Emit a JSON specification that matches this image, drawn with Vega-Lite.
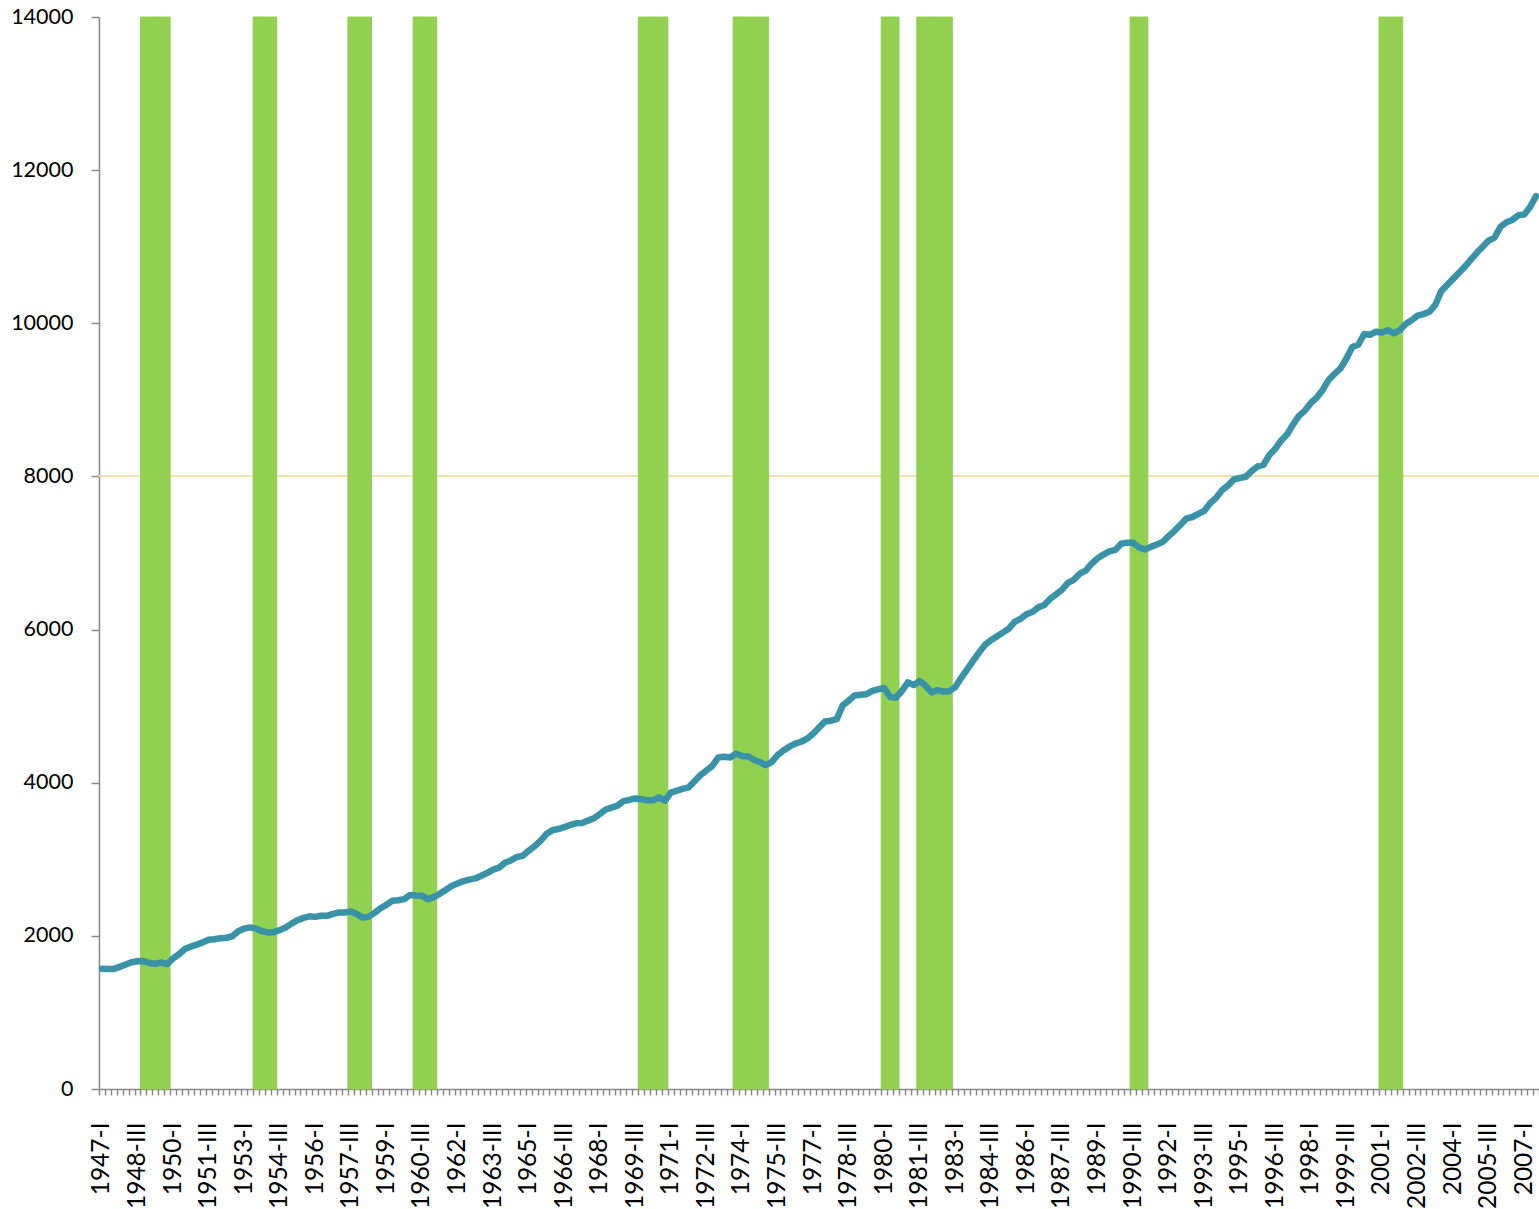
{
"$schema": "https://vega.github.io/schema/vega-lite/v6.json",
"width": 1440, "height": 1072,
"autosize": {"type": "none"},
"padding": {"left": 99, "top": 17, "right": 0, "bottom": 120},
"background": "white",
"config": {"view": {"stroke": null}, "font": "Lato"},
"data": {"values": [
{"q":"1947-I","gdp":1570,"rec":null},{"q":"1947-II","gdp":1568,"rec":null},{"q":"1947-III","gdp":1568,"rec":null},{"q":"1947-IV","gdp":1595,"rec":null},
{"q":"1948-I","gdp":1625,"rec":null},{"q":"1948-II","gdp":1655,"rec":null},{"q":"1948-III","gdp":1668,"rec":null},{"q":"1948-IV","gdp":1672,"rec":14000},
{"q":"1949-I","gdp":1645,"rec":14000},{"q":"1949-II","gdp":1635,"rec":14000},{"q":"1949-III","gdp":1652,"rec":14000},{"q":"1949-IV","gdp":1632,"rec":14000},
{"q":"1950-I","gdp":1705,"rec":null},{"q":"1950-II","gdp":1760,"rec":null},{"q":"1950-III","gdp":1828,"rec":null},{"q":"1950-IV","gdp":1860,"rec":null},
{"q":"1951-I","gdp":1885,"rec":null},{"q":"1951-II","gdp":1915,"rec":null},{"q":"1951-III","gdp":1950,"rec":null},{"q":"1951-IV","gdp":1955,"rec":null},
{"q":"1952-I","gdp":1970,"rec":null},{"q":"1952-II","gdp":1975,"rec":null},{"q":"1952-III","gdp":1995,"rec":null},{"q":"1952-IV","gdp":2060,"rec":null},
{"q":"1953-I","gdp":2095,"rec":null},{"q":"1953-II","gdp":2110,"rec":null},{"q":"1953-III","gdp":2095,"rec":14000},{"q":"1953-IV","gdp":2060,"rec":14000},
{"q":"1954-I","gdp":2045,"rec":14000},{"q":"1954-II","gdp":2048,"rec":14000},{"q":"1954-III","gdp":2075,"rec":null},{"q":"1954-IV","gdp":2110,"rec":null},
{"q":"1955-I","gdp":2160,"rec":null},{"q":"1955-II","gdp":2205,"rec":null},{"q":"1955-III","gdp":2235,"rec":null},{"q":"1955-IV","gdp":2255,"rec":null},
{"q":"1956-I","gdp":2248,"rec":null},{"q":"1956-II","gdp":2262,"rec":null},{"q":"1956-III","gdp":2262,"rec":null},{"q":"1956-IV","gdp":2288,"rec":null},
{"q":"1957-I","gdp":2305,"rec":null},{"q":"1957-II","gdp":2305,"rec":null},{"q":"1957-III","gdp":2318,"rec":14000},{"q":"1957-IV","gdp":2285,"rec":14000},
{"q":"1958-I","gdp":2238,"rec":14000},{"q":"1958-II","gdp":2248,"rec":14000},{"q":"1958-III","gdp":2300,"rec":null},{"q":"1958-IV","gdp":2360,"rec":null},
{"q":"1959-I","gdp":2405,"rec":null},{"q":"1959-II","gdp":2460,"rec":null},{"q":"1959-III","gdp":2465,"rec":null},{"q":"1959-IV","gdp":2480,"rec":null},
{"q":"1960-I","gdp":2535,"rec":null},{"q":"1960-II","gdp":2528,"rec":14000},{"q":"1960-III","gdp":2525,"rec":14000},{"q":"1960-IV","gdp":2480,"rec":14000},
{"q":"1961-I","gdp":2505,"rec":14000},{"q":"1961-II","gdp":2550,"rec":null},{"q":"1961-III","gdp":2600,"rec":null},{"q":"1961-IV","gdp":2650,"rec":null},
{"q":"1962-I","gdp":2685,"rec":null},{"q":"1962-II","gdp":2715,"rec":null},{"q":"1962-III","gdp":2735,"rec":null},{"q":"1962-IV","gdp":2750,"rec":null},
{"q":"1963-I","gdp":2785,"rec":null},{"q":"1963-II","gdp":2820,"rec":null},{"q":"1963-III","gdp":2865,"rec":null},{"q":"1963-IV","gdp":2890,"rec":null},
{"q":"1964-I","gdp":2955,"rec":null},{"q":"1964-II","gdp":2985,"rec":null},{"q":"1964-III","gdp":3030,"rec":null},{"q":"1964-IV","gdp":3045,"rec":null},
{"q":"1965-I","gdp":3110,"rec":null},{"q":"1965-II","gdp":3170,"rec":null},{"q":"1965-III","gdp":3240,"rec":null},{"q":"1965-IV","gdp":3330,"rec":null},
{"q":"1966-I","gdp":3380,"rec":null},{"q":"1966-II","gdp":3395,"rec":null},{"q":"1966-III","gdp":3420,"rec":null},{"q":"1966-IV","gdp":3448,"rec":null},
{"q":"1967-I","gdp":3470,"rec":null},{"q":"1967-II","gdp":3475,"rec":null},{"q":"1967-III","gdp":3505,"rec":null},{"q":"1967-IV","gdp":3535,"rec":null},
{"q":"1968-I","gdp":3590,"rec":null},{"q":"1968-II","gdp":3650,"rec":null},{"q":"1968-III","gdp":3675,"rec":null},{"q":"1968-IV","gdp":3700,"rec":null},
{"q":"1969-I","gdp":3760,"rec":null},{"q":"1969-II","gdp":3775,"rec":null},{"q":"1969-III","gdp":3795,"rec":null},{"q":"1969-IV","gdp":3785,"rec":14000},
{"q":"1970-I","gdp":3770,"rec":14000},{"q":"1970-II","gdp":3770,"rec":14000},{"q":"1970-III","gdp":3810,"rec":14000},{"q":"1970-IV","gdp":3765,"rec":14000},
{"q":"1971-I","gdp":3870,"rec":null},{"q":"1971-II","gdp":3895,"rec":null},{"q":"1971-III","gdp":3920,"rec":null},{"q":"1971-IV","gdp":3940,"rec":null},
{"q":"1972-I","gdp":4020,"rec":null},{"q":"1972-II","gdp":4100,"rec":null},{"q":"1972-III","gdp":4160,"rec":null},{"q":"1972-IV","gdp":4220,"rec":null},
{"q":"1973-I","gdp":4330,"rec":null},{"q":"1973-II","gdp":4340,"rec":null},{"q":"1973-III","gdp":4330,"rec":null},{"q":"1973-IV","gdp":4380,"rec":14000},
{"q":"1974-I","gdp":4350,"rec":14000},{"q":"1974-II","gdp":4345,"rec":14000},{"q":"1974-III","gdp":4300,"rec":14000},{"q":"1974-IV","gdp":4270,"rec":14000},
{"q":"1975-I","gdp":4230,"rec":14000},{"q":"1975-II","gdp":4270,"rec":null},{"q":"1975-III","gdp":4360,"rec":null},{"q":"1975-IV","gdp":4420,"rec":null},
{"q":"1976-I","gdp":4470,"rec":null},{"q":"1976-II","gdp":4510,"rec":null},{"q":"1976-III","gdp":4535,"rec":null},{"q":"1976-IV","gdp":4575,"rec":null},
{"q":"1977-I","gdp":4640,"rec":null},{"q":"1977-II","gdp":4720,"rec":null},{"q":"1977-III","gdp":4800,"rec":null},{"q":"1977-IV","gdp":4810,"rec":null},
{"q":"1978-I","gdp":4830,"rec":null},{"q":"1978-II","gdp":5010,"rec":null},{"q":"1978-III","gdp":5070,"rec":null},{"q":"1978-IV","gdp":5140,"rec":null},
{"q":"1979-I","gdp":5150,"rec":null},{"q":"1979-II","gdp":5155,"rec":null},{"q":"1979-III","gdp":5200,"rec":null},{"q":"1979-IV","gdp":5220,"rec":null},
{"q":"1980-I","gdp":5235,"rec":14000},{"q":"1980-II","gdp":5120,"rec":14000},{"q":"1980-III","gdp":5110,"rec":14000},{"q":"1980-IV","gdp":5200,"rec":null},
{"q":"1981-I","gdp":5310,"rec":null},{"q":"1981-II","gdp":5275,"rec":null},{"q":"1981-III","gdp":5330,"rec":14000},{"q":"1981-IV","gdp":5265,"rec":14000},
{"q":"1982-I","gdp":5180,"rec":14000},{"q":"1982-II","gdp":5210,"rec":14000},{"q":"1982-III","gdp":5190,"rec":14000},{"q":"1982-IV","gdp":5195,"rec":14000},
{"q":"1983-I","gdp":5250,"rec":null},{"q":"1983-II","gdp":5370,"rec":null},{"q":"1983-III","gdp":5480,"rec":null},{"q":"1983-IV","gdp":5590,"rec":null},
{"q":"1984-I","gdp":5700,"rec":null},{"q":"1984-II","gdp":5800,"rec":null},{"q":"1984-III","gdp":5860,"rec":null},{"q":"1984-IV","gdp":5910,"rec":null},
{"q":"1985-I","gdp":5960,"rec":null},{"q":"1985-II","gdp":6010,"rec":null},{"q":"1985-III","gdp":6100,"rec":null},{"q":"1985-IV","gdp":6140,"rec":null},
{"q":"1986-I","gdp":6200,"rec":null},{"q":"1986-II","gdp":6230,"rec":null},{"q":"1986-III","gdp":6290,"rec":null},{"q":"1986-IV","gdp":6320,"rec":null},
{"q":"1987-I","gdp":6400,"rec":null},{"q":"1987-II","gdp":6460,"rec":null},{"q":"1987-III","gdp":6520,"rec":null},{"q":"1987-IV","gdp":6610,"rec":null},
{"q":"1988-I","gdp":6650,"rec":null},{"q":"1988-II","gdp":6730,"rec":null},{"q":"1988-III","gdp":6770,"rec":null},{"q":"1988-IV","gdp":6860,"rec":null},
{"q":"1989-I","gdp":6930,"rec":null},{"q":"1989-II","gdp":6980,"rec":null},{"q":"1989-III","gdp":7020,"rec":null},{"q":"1989-IV","gdp":7040,"rec":null},
{"q":"1990-I","gdp":7120,"rec":null},{"q":"1990-II","gdp":7135,"rec":null},{"q":"1990-III","gdp":7135,"rec":14000},{"q":"1990-IV","gdp":7075,"rec":14000},
{"q":"1991-I","gdp":7045,"rec":14000},{"q":"1991-II","gdp":7080,"rec":null},{"q":"1991-III","gdp":7110,"rec":null},{"q":"1991-IV","gdp":7145,"rec":null},
{"q":"1992-I","gdp":7220,"rec":null},{"q":"1992-II","gdp":7290,"rec":null},{"q":"1992-III","gdp":7370,"rec":null},{"q":"1992-IV","gdp":7450,"rec":null},
{"q":"1993-I","gdp":7470,"rec":null},{"q":"1993-II","gdp":7510,"rec":null},{"q":"1993-III","gdp":7550,"rec":null},{"q":"1993-IV","gdp":7650,"rec":null},
{"q":"1994-I","gdp":7720,"rec":null},{"q":"1994-II","gdp":7820,"rec":null},{"q":"1994-III","gdp":7880,"rec":null},{"q":"1994-IV","gdp":7960,"rec":null},
{"q":"1995-I","gdp":7980,"rec":null},{"q":"1995-II","gdp":7995,"rec":null},{"q":"1995-III","gdp":8070,"rec":null},{"q":"1995-IV","gdp":8130,"rec":null},
{"q":"1996-I","gdp":8150,"rec":null},{"q":"1996-II","gdp":8280,"rec":null},{"q":"1996-III","gdp":8360,"rec":null},{"q":"1996-IV","gdp":8470,"rec":null},
{"q":"1997-I","gdp":8550,"rec":null},{"q":"1997-II","gdp":8680,"rec":null},{"q":"1997-III","gdp":8790,"rec":null},{"q":"1997-IV","gdp":8860,"rec":null},
{"q":"1998-I","gdp":8960,"rec":null},{"q":"1998-II","gdp":9030,"rec":null},{"q":"1998-III","gdp":9130,"rec":null},{"q":"1998-IV","gdp":9260,"rec":null},
{"q":"1999-I","gdp":9340,"rec":null},{"q":"1999-II","gdp":9410,"rec":null},{"q":"1999-III","gdp":9540,"rec":null},{"q":"1999-IV","gdp":9690,"rec":null},
{"q":"2000-I","gdp":9720,"rec":null},{"q":"2000-II","gdp":9860,"rec":null},{"q":"2000-III","gdp":9850,"rec":null},{"q":"2000-IV","gdp":9890,"rec":null},
{"q":"2001-I","gdp":9880,"rec":14000},{"q":"2001-II","gdp":9910,"rec":14000},{"q":"2001-III","gdp":9870,"rec":14000},{"q":"2001-IV","gdp":9910,"rec":14000},
{"q":"2002-I","gdp":9990,"rec":null},{"q":"2002-II","gdp":10040,"rec":null},{"q":"2002-III","gdp":10100,"rec":null},{"q":"2002-IV","gdp":10120,"rec":null},
{"q":"2003-I","gdp":10150,"rec":null},{"q":"2003-II","gdp":10240,"rec":null},{"q":"2003-III","gdp":10420,"rec":null},{"q":"2003-IV","gdp":10500,"rec":null},
{"q":"2004-I","gdp":10580,"rec":null},{"q":"2004-II","gdp":10660,"rec":null},{"q":"2004-III","gdp":10740,"rec":null},{"q":"2004-IV","gdp":10830,"rec":null},
{"q":"2005-I","gdp":10920,"rec":null},{"q":"2005-II","gdp":11000,"rec":null},{"q":"2005-III","gdp":11080,"rec":null},{"q":"2005-IV","gdp":11120,"rec":null},
{"q":"2006-I","gdp":11260,"rec":null},{"q":"2006-II","gdp":11320,"rec":null},{"q":"2006-III","gdp":11350,"rec":null},{"q":"2006-IV","gdp":11410,"rec":null},
{"q":"2007-I","gdp":11420,"rec":null},{"q":"2007-II","gdp":11520,"rec":null},{"q":"2007-III","gdp":11660,"rec":null}
]},
"layer": [
{
"mark": {"type": "rule", "color": "#f2dcaa", "strokeWidth": 1},
"encoding": {
"y": {"datum": 8000, "type": "quantitative", "scale": {"domain": [0, 14000], "nice": false},
"axis": {"title": null, "values": [0,2000,4000,6000,8000,10000,12000,14000], "format": "d", "grid": false, "tickSize": 8, "tickWidth": 1.5, "tickColor": "#888888", "domainColor": "#888888", "domainWidth": 1.5, "labelFontSize": 21.5, "labelFont": "Lato", "labelColor": "#000000", "labelPadding": 18}}
}
},
{
"mark": {"type": "bar", "color": "#92d050", "stroke": "#92d050", "strokeWidth": 1},
"encoding": {
"x": {"field": "q", "type": "ordinal", "scale": {"paddingInner": 0, "paddingOuter": 0},
"axis": {"title": null, "labelAngle": -90, "labelOverlap": false, "labelBound": false, "tickBand": "extent", "tickSize": 6, "tickWidth": 1.5, "tickColor": "#888888", "domainColor": "#888888", "domainWidth": 1.5, "labelFontSize": 24.5, "labelFont": "Lato", "labelColor": "#000000", "labelPadding": 27,
"labelExpr": "isString(datum.value) ? ((((toNumber(slice(datum.value,0,4))-1947)*4 + (slice(datum.value,5)=='IV' ? 3 : length(slice(datum.value,5))-1)) % 6 == 0) ? datum.value : '') : ''"}},
"y": {"field": "rec", "type": "quantitative", "scale": {"domain": [0, 14000], "nice": false}, "stack": null,
"axis": {"title": null, "values": [0,2000,4000,6000,8000,10000,12000,14000], "format": "d", "grid": false, "tickSize": 8, "tickWidth": 1.5, "tickColor": "#888888", "domainColor": "#888888", "domainWidth": 1.5, "labelFontSize": 21.5, "labelFont": "Lato", "labelColor": "#000000", "labelPadding": 18}}
}
},
{
"mark": {"type": "line", "color": "#3892a8", "strokeWidth": 6.5, "strokeJoin": "round", "strokeCap": "round"},
"encoding": {
"x": {"field": "q", "type": "ordinal", "scale": {"paddingInner": 0, "paddingOuter": 0},
"axis": {"title": null, "labelAngle": -90, "labelOverlap": false, "labelBound": false, "tickBand": "extent", "tickSize": 6, "tickWidth": 1.5, "tickColor": "#888888", "domainColor": "#888888", "domainWidth": 1.5, "labelFontSize": 24.5, "labelFont": "Lato", "labelColor": "#000000", "labelPadding": 27,
"labelExpr": "isString(datum.value) ? ((((toNumber(slice(datum.value,0,4))-1947)*4 + (slice(datum.value,5)=='IV' ? 3 : length(slice(datum.value,5))-1)) % 6 == 0) ? datum.value : '') : ''"}},
"y": {"field": "gdp", "type": "quantitative", "scale": {"domain": [0, 14000], "nice": false},
"axis": {"title": null, "values": [0,2000,4000,6000,8000,10000,12000,14000], "format": "d", "grid": false, "tickSize": 8, "tickWidth": 1.5, "tickColor": "#888888", "domainColor": "#888888", "domainWidth": 1.5, "labelFontSize": 21.5, "labelFont": "Lato", "labelColor": "#000000", "labelPadding": 18}}
}
}
]
}
